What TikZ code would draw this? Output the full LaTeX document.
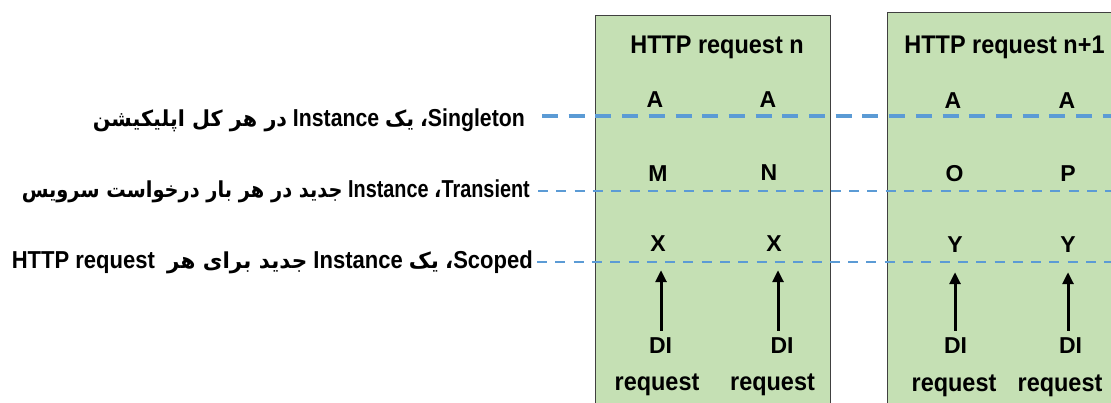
\documentclass[tikz,border=0pt]{standalone}
\usepackage{fontspec}
\usepackage{graphicx}
\usetikzlibrary{arrows.meta}
\TeXXeTstate=1
\setmainfont{Liberation Sans}[FakeStretch=0.92]
\newfontfamily\plainfont{Liberation Sans}
\newfontfamily\arabicfont[Script=Arabic]{DejaVu Sans}
\definecolor{boxgreen}{RGB}{197,224,180}
\definecolor{dashblue}{RGB}{91,155,213}
\definecolor{boxedge}{RGB}{64,64,64}
\newcommand\fa[1]{{\arabicfont\bfseries\fontsize{22}{26}\selectfont #1}}
\tikzset{
 boxnode/.style={draw=boxedge, line width=1.3pt, fill=boxgreen, anchor=north west, inner sep=0pt, minimum height=420pt},
 titlelbl/.style={anchor=base, inner sep=0pt, font=\fontsize{25.5}{30}\selectfont\bfseries},
 letter/.style={anchor=base, inner sep=0pt, font=\plainfont\fontsize{23}{27}\selectfont\bfseries},
 reqlbl/.style={anchor=base, inner sep=0pt, font=\fontsize{25.5}{30}\selectfont\bfseries},
 sidelbl/.style={anchor=base east, inner sep=0pt, font=\fontsize{24.5}{30}\selectfont\bfseries},
 thickdash/.style={draw=dashblue, line width=3.5pt, dash pattern=on 16pt off 10.7pt},
 thindash/.style={draw=dashblue, line width=2pt, dash pattern=on 10pt off 8.3pt},
 diarrow/.style={-{Triangle[length=12pt,width=11pt]}, line width=3pt},
}
\begin{document}
\begin{tikzpicture}[x=1pt,y=-1pt]
\useasboundingbox[fill=white] (0,0) rectangle (1111,402);
\clip (0,0) rectangle (1111,402);
% boxes
\node[boxnode, minimum width=235pt] (b1) at (595,15) {};
\node[boxnode, minimum width=260pt] (b2) at (887,12) {};
% side labels
\node[sidelbl] (l1) at (525,126) {\resizebox{432pt}{\height}{\beginR Singleton\fa{،} \fa{یک} Instance \fa{در هر کل اپلیکیشن}\endR}};
\node[sidelbl] (l2) at (530,197) {\resizebox{508pt}{\height}{\beginR Transient\fa{،} Instance \fa{جدید در هر بار درخواست سرویس}\endR}};
\node[sidelbl] (l3) at (533,268) {\resizebox{521pt}{\height}{\beginR Scoped\fa{،} \fa{یک} Instance \fa{جدید برای هر}\ \ \beginL HTTP request\endL\endR}};
% dashed lines
\coordinate (e1) at (1111,116);
\coordinate (e2) at (1111,191);
\coordinate (e3) at (1111,262);
\draw[thickdash, shorten <=17pt] (l1.east |- e1) -- (e1);
\draw[thindash, shorten <=8pt] (l2.east |- e2) -- (e2);
\draw[thindash, shorten <=4pt] (l3.east |- e3) -- (e3);
% titles
\node[titlelbl] (t1) at (717,53) {HTTP request n};
\node[titlelbl] (t2) at (1004.5,53) {HTTP request n+1};
% letters
\node[letter] (a1) at (655,107) {A};
\node[letter] (a2) at (768,107) {A};
\node[letter] (a3) at (953,108) {A};
\node[letter] (a4) at (1067,108) {A};
\node[letter] (m1) at (658,181) {M};
\node[letter] (n1) at (769,180) {N};
\node[letter] (o1) at (954.6,181) {O};
\node[letter] (p1) at (1068,181) {P};
\node[letter] (x1) at (658,251) {X};
\node[letter] (x2) at (774,251) {X};
\node[letter] (y1) at (955,252) {Y};
\node[letter] (y2) at (1068,252) {Y};
\node[letter] (d1) at (660.5,353) {DI};
\node[letter] (d2) at (782,353) {DI};
\node[letter] (d3) at (955.6,353) {DI};
\node[letter] (d4) at (1070.5,353) {DI};
\node[reqlbl] (r1) at (657,390) {request};
\node[reqlbl] (r2) at (772.5,390) {request};
\node[reqlbl] (r3) at (954,391) {request};
\node[reqlbl] (r4) at (1060,391) {request};
% arrows
\draw[diarrow, shorten <=6pt, shorten >=19pt] ([xshift=0.5pt]d1.north) -- ([xshift=0.5pt]d1.north |- x1.south);
\draw[diarrow, shorten <=6pt, shorten >=19pt] ([xshift=-4pt]d2.north) -- ([xshift=-4pt]d2.north |- x2.south);
\draw[diarrow, shorten <=6pt, shorten >=20pt] ([xshift=-0.6pt]d3.north) -- ([xshift=-0.6pt]d3.north |- y1.south);
\draw[diarrow, shorten <=6pt, shorten >=20pt] ([xshift=-2.5pt]d4.north) -- ([xshift=-2.5pt]d4.north |- y2.south);
\end{tikzpicture}
\end{document}
